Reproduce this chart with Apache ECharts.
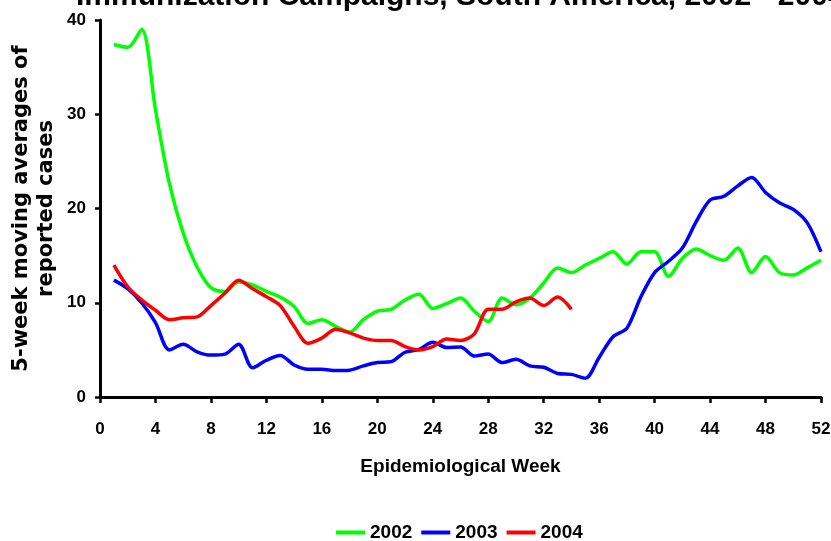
<!DOCTYPE html>
<html>
<head>
<meta charset="utf-8">
<script src="https://cdn.jsdelivr.net/npm/echarts@6/dist/echarts.min.js"></script>
<style>html,body{margin:0;padding:0;background:#fff;}#c{width:831px;height:541px;}</style>
</head>
<body>
<div id="c"></div>
<script>
var titleText = 'Immunization Campaigns, South America, 2002 - 2004';
var xAxisTitle = 'Epidemiological Week';
var yAxisTitle = '5-week moving averages of\nreported cases';
var seriesNames = ['2002', '2003', '2004'];
var firstWeek = 1;
var v2002 = [37.4,37.1,39.0,30.5,22.7,17.4,13.8,11.6,11.2,12.2,11.9,11.2,10.6,9.6,7.8,8.2,7.5,6.9,8.2,9.1,9.3,10.3,10.9,9.4,9.9,10.5,9.1,8.0,10.5,9.8,10.5,12.1,13.7,13.2,14.0,14.7,15.4,14.1,15.4,15.4,12.8,14.7,15.7,15.0,14.5,15.8,13.2,14.9,13.2,12.95,13.7,14.5];
var v2003 = [12.4,11.5,10.0,7.9,5.0,5.6,4.8,4.45,4.55,5.6,3.1,3.9,4.4,3.4,2.95,2.95,2.8,2.85,3.3,3.65,3.75,4.75,5.05,5.8,5.25,5.3,4.35,4.55,3.65,4.0,3.3,3.15,2.5,2.4,2.0,4.2,6.4,7.3,10.6,13.2,14.4,15.8,18.6,20.9,21.3,22.4,23.3,21.7,20.6,19.9,18.5,15.4];
var v2004 = [14.0,11.7,10.3,9.2,8.2,8.4,8.5,9.7,11.0,12.4,11.5,10.65,9.7,7.5,5.7,6.25,7.2,6.8,6.25,6.0,6.0,5.35,5.0,5.35,6.15,6.0,6.7,9.3,9.3,10.1,10.5,9.7,10.6,9.3];
var colors = ['#00FF00', '#0000FF', '#FF0000'];

function toPairs(arr) {
  return arr.map(function (v, i) { return [firstWeek + i, v]; });
}

var chart = echarts.init(document.getElementById('c'), null, {renderer: 'canvas'});
var font = 'Liberation Sans';
var option = {
  animation: false,
  backgroundColor: '#ffffff',
  graphic: [{
    type: 'text',
    left: 76,
    top: -18,
    style: {
      text: titleText,
      font: 'bold 30px "Liberation Sans"',
      fill: '#000'
    }
  }],
  grid: {left: 100, right: 10, top: 20, bottom: 144, containLabel: false, outerBoundsMode: 'none'},
  legend: {
    data: seriesNames,
    left: 331,
    top: 518,
    icon: 'rect',
    itemWidth: 29,
    itemHeight: 4,
    itemGap: 9,
    textStyle: {fontFamily: font, fontWeight: 'bold', fontSize: 19, color: '#000'}
  },
  xAxis: {
    type: 'value',
    min: 0, max: 52, interval: 4,
    name: xAxisTitle,
    nameLocation: 'middle',
    nameGap: 60,
    nameMoveOverlap: false,
    nameTextStyle: {fontFamily: font, fontWeight: 'bold', fontSize: 19, color: '#000'},
    axisLine: {show: true, lineStyle: {color: '#000', width: 3}},
    axisTick: {show: true, inside: false, length: 6, lineStyle: {color: '#000', width: 2.5}},
    axisLabel: {margin: 24, fontFamily: font, fontWeight: 'bold', fontSize: 17, color: '#000'},
    splitLine: {show: false}
  },
  yAxis: {
    type: 'value',
    min: 0, max: 40, interval: 10,
    name: yAxisTitle,
    nameLocation: 'middle',
    nameRotate: 90,
    nameGap: 41,
    nameMoveOverlap: false,
    nameTextStyle: {fontFamily: 'DejaVu Sans', fontWeight: 'bold', fontSize: 21, color: '#000', lineHeight: 25},
    axisLine: {show: true, lineStyle: {color: '#000', width: 3}},
    axisTick: {show: true, inside: false, length: 5, lineStyle: {color: '#000', width: 2.5}},
    axisLabel: {margin: 14, fontFamily: font, fontWeight: 'bold', fontSize: 17, color: '#000'},
    splitLine: {show: false}
  },
  series: [
    {name: seriesNames[0], type: 'line', data: toPairs(v2002), smooth: 0.3, symbol: 'none', lineStyle: {color: colors[0], width: 3.5}, itemStyle: {color: colors[0]}},
    {name: seriesNames[1], type: 'line', data: toPairs(v2003), smooth: 0.3, symbol: 'none', lineStyle: {color: colors[1], width: 3.5}, itemStyle: {color: colors[1]}},
    {name: seriesNames[2], type: 'line', data: toPairs(v2004), smooth: 0.3, symbol: 'none', lineStyle: {color: colors[2], width: 3.5}, itemStyle: {color: colors[2]}}
  ]
};
chart.setOption(option);
</script>
</body>
</html>
